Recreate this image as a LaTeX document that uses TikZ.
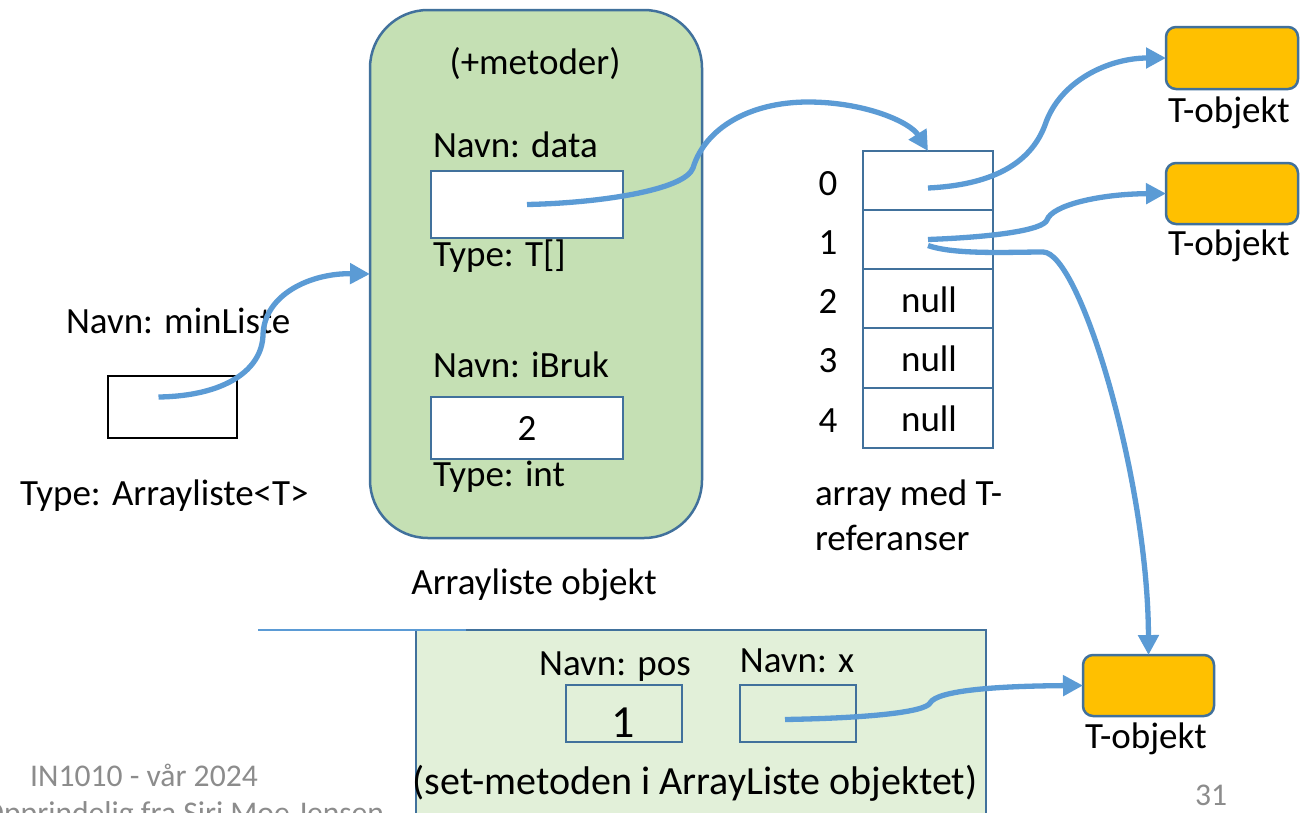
\documentclass[tikz,border=0pt]{standalone}
\usepackage{fontspec}
\setmainfont{Carlito}
\usetikzlibrary{arrows.meta}
\definecolor{arrowblue}{HTML}{5B9BD5}
\definecolor{bord}{HTML}{41719C}
\definecolor{grn}{HTML}{C5E0B4}
\definecolor{lgrn}{HTML}{E2F0D9}
\definecolor{tobj}{HTML}{FFC000}
\definecolor{footgray}{HTML}{8C8C8C}
\tikzset{
  txt/.style={inner sep=0pt, outer sep=0pt, font=\fontsize{37}{41}\selectfont},
  lbl/.style={txt, anchor=base west},
  clbl/.style={txt, anchor=base},
  foot/.style={inner sep=0pt, text=footgray, font=\fontsize{31.6}{36}\selectfont},
  objbox/.style={draw=bord, line width=2.5pt, fill=grn, rounded corners=58pt, inner sep=0pt, outer sep=0pt},
  fieldbox/.style={draw=bord, line width=2.5pt, fill=white, inner sep=0pt, outer sep=0pt},
  cell/.style={draw=bord, line width=2.5pt, fill=white, inner sep=0pt, outer sep=0pt, minimum width=130pt},
  tbox/.style={draw=bord, line width=2.5pt, fill=tobj, rounded corners=10pt, inner sep=0pt, outer sep=0pt, minimum width=132pt, minimum height=62pt},
  ref/.style={draw=arrowblue, line width=5.3pt, -{Triangle[length=20pt,width=20pt]}},
}
\begin{document}
\begin{tikzpicture}[x=1pt,y=-1pt]
\useasboundingbox (0,0) rectangle (1311,812);
\clip (0,0) rectangle (1311,812);
\fill[white] (0,0) rectangle (1311,812);

% Arrayliste object
\node[objbox, minimum width=332pt, minimum height=528pt] (gbox) at (536,274) {};
\node[clbl] (metoder) at (535,74) {(+metoder)};
\node[lbl] (ndata) at (433,157) {Navn: data};
\node[fieldbox, minimum width=192pt, minimum height=67pt] (data) at (527,204.5) {};
\node[lbl] (tdata) at (433,266) {Type: T[]};
\node[lbl] (nibruk) at (433,377) {Navn: iBruk};
\node[fieldbox, minimum width=192pt, minimum height=62pt] (ibruk) at (527,428) {};
\node[clbl] (two) at (527,440) {2};
\node[lbl] (tibruk) at (433,486) {Type: int};
\node[clbl] (aobj) at (534,594) {Arrayliste objekt};

% minListe
\node[lbl] (nmin) at (66,333) {Navn: minListe};
\node[draw=black, line width=2pt, fill=white, inner sep=0pt, outer sep=0pt, minimum width=129pt, minimum height=62pt] (mini) at (172.5,407) {};
\node[lbl] (tmin) at (20,505) {Type: Arrayliste<T>};

% array
\node[cell, minimum height=59pt] (arr0) at (928,180.5) {};
\node[cell, minimum height=59pt] (arr1) at (928,239.5) {};
\node[cell, minimum height=59pt] (arr2) at (928,298.5) {};
\node[cell, minimum height=60pt] (arr3) at (928,358) {};
\node[cell, minimum height=60pt] (arr4) at (928,418) {};
\node[clbl] (null2) at (929,312) {null};
\node[clbl] (null3) at (929,371) {null};
\node[clbl] (null4) at (929,431) {null};
\node[clbl] (i0) at (828,195) {0};
\node[clbl] (i1) at (828,254) {1};
\node[clbl] (i2) at (828,313) {2};
\node[clbl] (i3) at (828,372) {3};
\node[clbl] (i4) at (828,432) {4};
\node[lbl] (amed) at (815,505) {array med T-};
\node[lbl] (aref) at (815,550) {referanser};

% T objects
\node[tbox] (t1) at (1232,58) {};
\node[lbl] (t1l) at (1168,122) {T-objekt};
\node[tbox, minimum height=61pt] (t2) at (1232,193.5) {};
\node[lbl] (t2l) at (1168,255) {T-objekt};
\node[tbox, minimum width=131pt, minimum height=61pt] (t3) at (1148.5,685.5) {};
\node[lbl] (t3l) at (1085,748) {T-objekt};

% set-metoden frame
\node[draw=bord, line width=2.5pt, fill=lgrn, inner sep=0pt, outer sep=0pt, minimum width=570pt, minimum height=200pt] (setbox) at (701,730) {};
\draw[arrowblue, line width=2pt] (258,630) -- (466,630);
\node[clbl] (npos) at (615,675) {Navn: pos};
\node[clbl] (nx) at (797,672) {Navn: x};
\node[fieldbox, fill=lgrn, minimum width=116pt, minimum height=57pt] (pos) at (624,713.5) {};
\node[fieldbox, fill=lgrn, minimum width=116pt, minimum height=57pt] (xb) at (798,713.5) {};
\node[txt, anchor=base, font=\fontsize{46}{50}\selectfont] (one) at (623,737) {1};
\node[txt, anchor=base, font=\fontsize{40}{44}\selectfont] (setm) at (695,794) {(set-metoden i ArrayListe objektet)};

% footer
\node[foot, anchor=base west] (course) at (30,786) {IN1010 - vår 2024};
\node[foot, anchor=base west] (orig) at (-17,823) {Opprindelig fra Siri Moe Jensen};
\node[foot, anchor=base] (pnum) at (1211,805) {31};

% references
\draw[ref] ([xshift=-14pt,yshift=10pt]mini.center) .. controls (225,396) and (262,370) .. (263,335)
  .. controls (264,295) and (310,273) .. (gbox.west);
\draw[ref] (data.center) .. controls (600,203) and (685,190) .. (693,168)
  .. controls (705,128) and (750,102) .. (808,102)
  .. controls (865,102) and (910,122) .. (arr0.north);
\draw[ref] ([yshift=-7.5pt]arr0.center) .. controls (990,185) and (1030,165) .. (1045,125)
  .. controls (1060,80) and (1110,58) .. (t1.west);
\draw[ref] (arr1.center) .. controls (995,237) and (1043,230) .. (1047,220)
  .. controls (1052,205) and (1100,194) .. (t2.west);
\draw[ref] ([yshift=-6pt]arr1.center) .. controls (955,255) and (1010,252) .. (1043,252)
  .. controls (1080,252) and (1148,480) .. (t3.north);
\draw[ref] ([xshift=-13pt,yshift=-6pt]xb.center) .. controls (870,718) and (925,712) .. (930,703)
  .. controls (937,690) and (1000,686) .. (t3.west);
\end{tikzpicture}
\end{document}
